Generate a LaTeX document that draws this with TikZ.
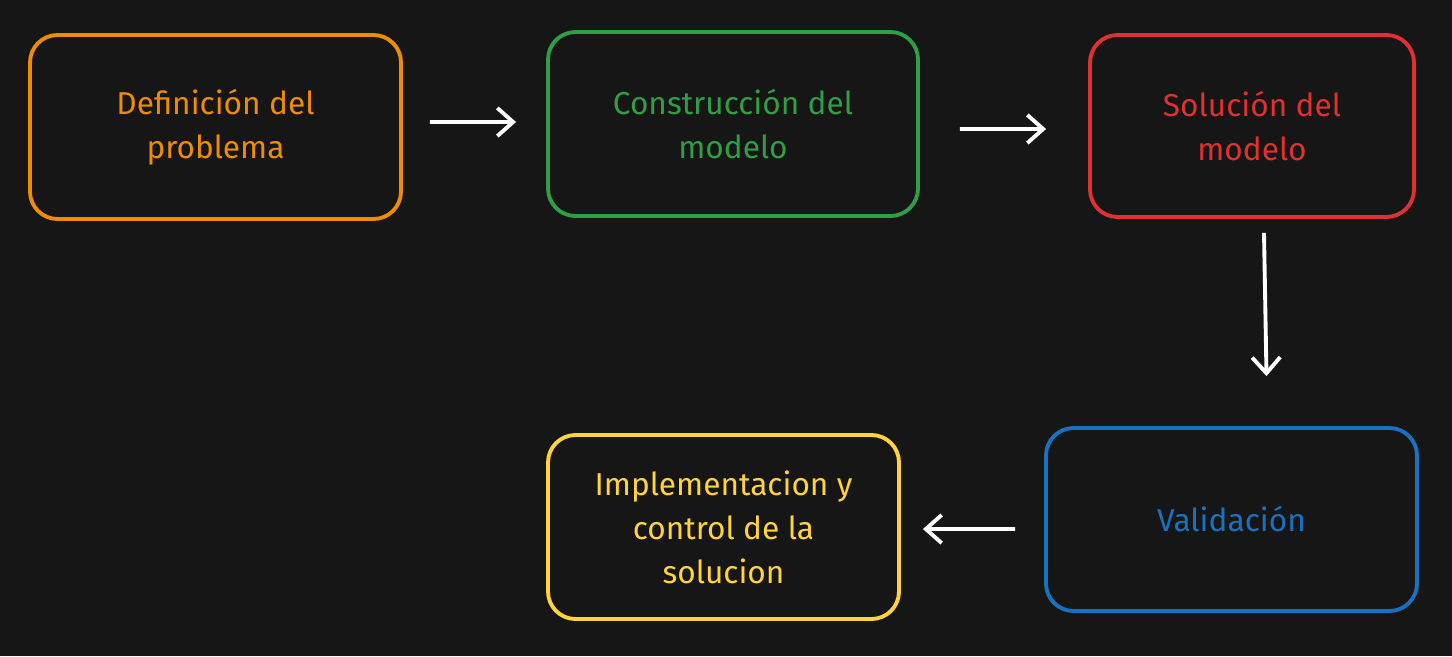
\documentclass[tikz,border=0pt]{standalone}
\usepackage{fontspec}
\setmainfont{Fira Sans}
\usepackage{tikz}
\usepackage{xcolor}
\usetikzlibrary{arrows.meta}
\definecolor{bgdark}{HTML}{161616}
\definecolor{stageorange}{HTML}{F08C00}
\definecolor{stagegreen}{HTML}{2F9E44}
\definecolor{stagered}{HTML}{E03131}
\definecolor{stageblue}{HTML}{1971C2}
\definecolor{stageyellow}{HTML}{FFD43B}
\tikzset{
    stage-box/.style = {draw=#1, text=#1, fill=bgdark, line width=2.2pt, rectangle, rounded corners=0.55cm, align=center, font=\fontsize{18}{25}\selectfont, inner sep=0pt},
    flow-arrow/.style = {draw=white, line width=2.2pt, -{Straight Barb[length=9pt,width=16pt,line width=2.2pt]}},
}

\begin{document}
\begin{tikzpicture}
\fill[bgdark] (0,0) rectangle (29.04,-13.12);
\useasboundingbox (0,0) rectangle (29.04,-13.12);

\node [stage-box=stageorange, minimum width=7.42cm, minimum height=3.68cm] (definicion) at (4.31,-2.54) {Definición del\\problema};
\node [stage-box=stagegreen, minimum width=7.40cm, minimum height=3.68cm] (construccion) at (14.66,-2.48) {Construcción del\\modelo};
\node [stage-box=stagered, minimum width=6.48cm, minimum height=3.64cm] (solucion) at (25.04,-2.52) {Solución del\\modelo};
\node [stage-box=stageblue, minimum width=7.42cm, minimum height=3.66cm] (validacion) at (24.63,-10.39) {Validación};
\node [stage-box=stageyellow, minimum width=7.02cm, minimum height=3.68cm] (implementacion) at (14.47,-10.54) {Implementacion y\\control de la\\solucion};

\draw [flow-arrow] ([xshift=0.54cm,yshift=0.1cm]definicion.east) -- ([xshift=-0.6cm,yshift=0.04cm]construccion.west);
\draw [flow-arrow] ([xshift=0.8cm,yshift=-0.1cm]construccion.east) -- ([xshift=-0.84cm,yshift=-0.06cm]solucion.west);
\draw [flow-arrow] ([xshift=0.24cm,yshift=-0.28cm]solucion.south) -- ([xshift=0.70cm,yshift=1.0cm]validacion.north);
\draw [flow-arrow] ([xshift=-0.58cm,yshift=-0.19cm]validacion.west) -- ([xshift=0.44cm,yshift=-0.04cm]implementacion.east);
\end{tikzpicture}
\end{document}
